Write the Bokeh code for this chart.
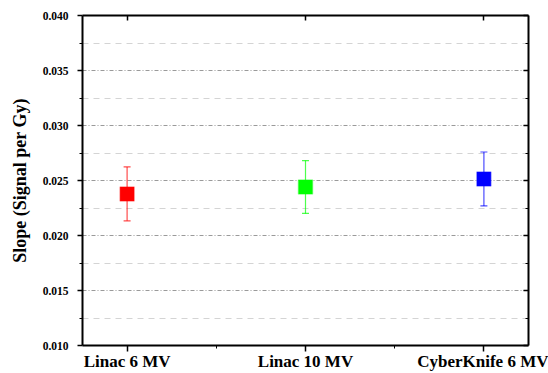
from bokeh.plotting import figure
from bokeh.models import (ColumnDataSource, FixedTicker, LinearAxis, PrintfTickFormatter,
                          Range1d, Grid, Whisker, TeeHead)
from bokeh.embed import file_html
from bokeh.resources import INLINE

categories = ["Linac 6 MV", "Linac 10 MV", "CyberKnife 6 MV"]
positions = [1, 2, 3]
slopes = [0.02378, 0.02441, 0.02514]
errors = [0.00245, 0.00240, 0.00245]
colors = ["#FF0000", "#00FF00", "#0000FF"]

y_major = [0.010, 0.015, 0.020, 0.025, 0.030, 0.035, 0.040]
y_minor = [0.0125, 0.0175, 0.0225, 0.0275, 0.0325, 0.0375]

src = ColumnDataSource(dict(
    x=positions, y=slopes, color=colors,
    lower=[s - e for s, e in zip(slopes, errors)],
    upper=[s + e for s, e in zip(slopes, errors)],
))

p = figure(width=548, height=373, output_backend="svg", toolbar_location=None,
           x_range=Range1d(0.75, 3.25), y_range=Range1d(0.010, 0.040),
           min_border_left=82, min_border_right=20, min_border_top=15, min_border_bottom=27)
p.outline_line_color = None
p.xgrid.visible = False
p.ygrid.visible = False
p.background_fill_color = "white"
p.border_fill_color = "white"

font = "Liberation Serif"
xticker = FixedTicker(ticks=positions, minor_ticks=[1.5, 2.5])
yticker = FixedTicker(ticks=y_major, minor_ticks=y_minor)

# grids
p.add_layout(Grid(dimension=1, ticker=FixedTicker(ticks=y_major[1:-1]),
                  grid_line_color="#9a9a9a", grid_line_dash="4 2 1 2", grid_line_width=1))
p.add_layout(Grid(dimension=1, ticker=FixedTicker(ticks=y_minor),
                  grid_line_color="#d4d4d4", grid_line_dash="6 5", grid_line_width=1))

# bottom axis
xa = p.xaxis[0]
xa.ticker = xticker
xa.major_label_overrides = {pos: c for pos, c in zip(positions, categories)}
xa.major_label_text_font = font
xa.major_label_text_font_style = "bold"
xa.major_label_text_font_size = "17px"
xa.major_label_text_color = "black"
xa.axis_line_width = 2
xa.major_tick_out = 6
xa.major_tick_in = 0
xa.minor_tick_out = 3
xa.minor_tick_in = 0
xa.major_tick_line_width = 1.5
xa.major_label_standoff = 0

# left axis
ya = p.yaxis[0]
ya.ticker = yticker
ya.formatter = PrintfTickFormatter(format="%.3f")
ya.major_label_text_font = font
ya.major_label_text_font_style = "bold"
ya.major_label_text_font_size = "11.5px"
ya.major_label_text_color = "black"
ya.axis_label = "Slope (Signal per Gy)"
ya.axis_label_text_font = font
ya.axis_label_text_font_style = "bold"
ya.axis_label_text_font_size = "18px"
ya.axis_label_text_color = "black"
ya.axis_label_standoff = 10
ya.axis_line_width = 2
ya.major_tick_out = 5
ya.major_tick_in = 0
ya.minor_tick_out = 3
ya.minor_tick_in = 0
ya.major_tick_line_width = 1.5
ya.major_label_standoff = 9

# top axis (ticks only)
top = LinearAxis(ticker=xticker, axis_line_width=2,
                 major_label_overrides={pos: "" for pos in positions},
                 major_tick_in=5, major_tick_out=0, minor_tick_in=0, minor_tick_out=0,
                 major_tick_line_width=1.5, major_label_standoff=0)
p.add_layout(top, "above")
# right axis (ticks only)
right = LinearAxis(ticker=yticker, axis_line_width=2,
                   major_label_overrides={v: "" for v in y_major},
                   major_tick_in=5, major_tick_out=0, minor_tick_in=3, minor_tick_out=0,
                   major_tick_line_width=1.5, major_label_standoff=0)
p.add_layout(right, "right")

# error bars
for i in range(len(positions)):
    s = ColumnDataSource(dict(x=[positions[i]], lower=[src.data["lower"][i]], upper=[src.data["upper"][i]]))
    w = Whisker(base="x", lower="lower", upper="upper", source=s, dimension="height",
                line_color=colors[i], line_alpha=0.7, line_width=1.2,
                upper_head=TeeHead(size=7, line_color=colors[i], line_alpha=0.7, line_width=1.2),
                lower_head=TeeHead(size=7, line_color=colors[i], line_alpha=0.7, line_width=1.2))
    p.add_layout(w)

p.scatter("x", "y", source=src, marker="square", size=14, fill_color="color",
          line_color="color", line_alpha=0.4, line_width=1.5)

open("out.html", "w").write(file_html(p, INLINE))
